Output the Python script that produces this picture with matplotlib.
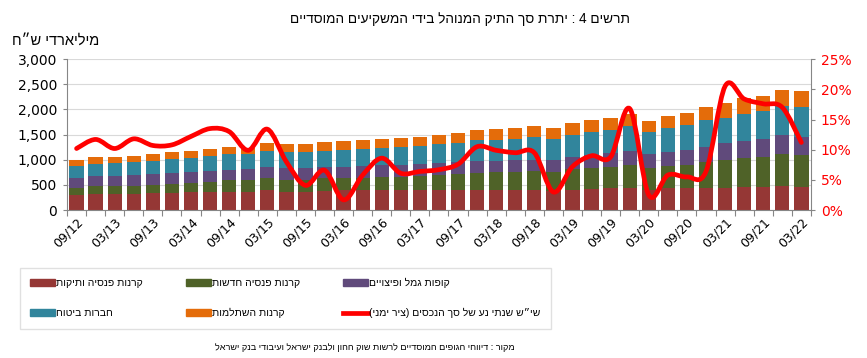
import matplotlib
matplotlib.use("Agg")
import matplotlib.pyplot as plt
import numpy as np
from matplotlib.path import Path
from matplotlib.patches import PathPatch, Patch
from matplotlib.lines import Line2D
from matplotlib.ticker import FuncFormatter


def heb(s):
    # matplotlib has no bidi support: reverse for display, mirror brackets
    return s[::-1].translate(str.maketrans('()', ')('))


quarters = ['09/12', '12/12', '03/13', '06/13', '09/13', '12/13', '03/14', '06/14',
            '09/14', '12/14', '03/15', '06/15', '09/15', '12/15', '03/16', '06/16',
            '09/16', '12/16', '03/17', '06/17', '09/17', '12/17', '03/18', '06/18',
            '09/18', '12/18', '03/19', '06/19', '09/19', '12/19', '03/20', '06/20',
            '09/20', '12/20', '03/21', '06/21', '09/21', '12/21', '03/22']

# billions NIS
old_pension = [300, 318, 318, 318, 331, 344, 357, 364, 364, 364, 404, 364, 364, 384,
               397, 397, 397, 397, 397, 397, 397, 397, 397, 397, 397, 384, 397, 410,
               430, 430, 397, 430, 430, 430, 430, 450, 450, 477, 450]
new_pension = [145, 160, 160, 160, 166, 172, 173, 192, 225, 232, 225, 238, 232, 245,
               232, 245, 265, 265, 278, 298, 318, 344, 351, 364, 378, 377, 417, 418,
               417, 464, 444, 444, 464, 530, 563, 589, 609, 635, 642]
provident = [200, 205, 205, 218, 211, 225, 231, 219, 205, 212, 218, 226, 232, 225,
             225, 232, 232, 232, 232, 232, 245, 232, 225, 225, 218, 232, 245, 264,
             278, 278, 265, 285, 298, 298, 331, 331, 351, 378, 364]
insurance = [230, 232, 245, 252, 265, 272, 278, 297, 312, 298, 325, 331, 324, 318,
             338, 344, 337, 364, 371, 377, 377, 411, 417, 424, 463, 417, 431, 450,
             464, 503, 436, 476, 496, 529, 510, 537, 556, 575, 590]
study_funds = [120, 132, 132, 125, 133, 132, 139, 146, 145, 132, 159, 152, 159, 178,
               178, 179, 179, 165, 178, 186, 192, 205, 219, 225, 219, 225, 231, 239,
               245, 238, 226, 232, 245, 265, 298, 324, 305, 325, 324]
# annual change of total assets, % (right axis)
yoy_change = [10.2, 11.7, 10.2, 11.8, 10.7, 10.8, 12.2, 13.5, 13.0, 9.9, 13.4, 8.0,
              4.1, 6.6, 1.7, 5.8, 8.6, 6.1, 6.4, 6.7, 7.6, 10.5, 9.9, 9.5, 9.5, 3.0,
              7.2, 9.0, 8.8, 16.8, 2.5, 5.8, 5.5, 6.4, 20.5, 18.4, 17.6, 17.0, 11.2]

names = ['קרנות פנסיה ותיקות', 'קרנות פנסיה חדשות', 'קופות גמל ופיצויים',
         'חברות ביטוח', 'קרנות השתלמות']
line_name = 'שי״ש שנתי נע של סך הנכסים (ציר ימני)'
colors = ['#953735', '#4f6228', '#604a7b', '#31859c', '#e46c0a']

title = 'תרשים 4 : יתרת סך התיק המנוהל בידי המשקיעים המוסדיים'
unit = 'מיליארדי ש״ח'
source = 'מקור : דיווחי הגופים המוסדיים לרשות שוק ההון ולבנק ישראל ועיבודי בנק ישראל'

hfont = ['Liberation Sans', 'DejaVu Sans']

fig = plt.figure(figsize=(8.67, 3.58), dpi=100)
ax = fig.add_axes([0.0773, 0.413, 0.858, 0.422])
x = np.arange(len(quarters))

bottom = np.zeros(len(quarters))
series = [old_pension, new_pension, provident, insurance, study_funds]
for vals, c in zip(series, colors):
    ax.bar(x, vals, 0.75, bottom=bottom, color=c, zorder=2)
    bottom += np.array(vals)

ax.set_xlim(-0.5, len(quarters) - 0.5)
ax.set_ylim(0, 3000)
ax.set_yticks(range(0, 3001, 500))
ax.yaxis.set_major_formatter(FuncFormatter(lambda v, p: f'{int(v):,}'))
ax.grid(axis='y', color='#d9d9d9', lw=0.8, zorder=0)
ax.tick_params(axis='y', labelsize=10, length=3, color='#868686', pad=4)

# category boundary ticks, labels every second quarter
ax.set_xticks(np.arange(-0.5, len(quarters), 1))
ax.set_xticklabels([])
ax.tick_params(axis='x', which='major', length=4, color='#868686')
ax.set_xticks(x[::2], minor=True)
ax.set_xticklabels(quarters[::2], minor=True, rotation=45, ha='right',
                   rotation_mode='anchor', fontsize=9)
ax.tick_params(axis='x', which='minor', length=0, pad=4)

for s in ['top', 'right']:
    ax.spines[s].set_visible(False)
for s in ['left', 'bottom']:
    ax.spines[s].set_color('#868686')

ax2 = ax.twinx()
ax2.set_ylim(0, 25)
ax2.set_yticks(range(0, 26, 5))
ax2.yaxis.set_major_formatter(FuncFormatter(lambda v, p: f'{int(v)}%'))
ax2.tick_params(axis='y', labelsize=10, labelcolor='#ff0000', length=3,
                color='#868686', pad=4)
for s in ['top', 'left', 'bottom']:
    ax2.spines[s].set_visible(False)
ax2.spines['right'].set_color('#868686')

# smoothed line (Catmull-Rom through the data points)
px = x.astype(float)
py = np.array(yoy_change)
verts = [(px[0], py[0])]
codes = [Path.MOVETO]
n = len(px)
for i in range(n - 1):
    i0, i2, i3 = max(i - 1, 0), i + 1, min(i + 2, n - 1)
    c1 = (px[i] + (px[i2] - px[i0]) / 6, py[i] + (py[i2] - py[i0]) / 6)
    c2 = (px[i2] - (px[i3] - px[i]) / 6, py[i2] - (py[i3] - py[i]) / 6)
    verts += [c1, c2, (px[i2], py[i2])]
    codes += [Path.CURVE4] * 3
ax2.add_patch(PathPatch(Path(verts, codes), fill=False, edgecolor='#ff0000',
                        lw=3.4, capstyle='round', joinstyle='round', zorder=3))

fig.text(0.530, 0.948, heb(title), ha='center', va='center', fontsize=9.8,
         family=hfont)
fig.text(0.014, 0.885, heb(unit), ha='left', va='center', fontsize=10.5,
         family=hfont)

handles = [Patch(color=colors[0]), Patch(color=colors[3]),
           Patch(color=colors[1]), Patch(color=colors[4]),
           Patch(color=colors[2]),
           Line2D([0], [0], color='#ff0000', lw=3.4)]
labels = [heb(names[0]), heb(names[3]), heb(names[1]), heb(names[4]),
          heb(names[2]), heb(line_name)]
leg = fig.legend(handles, labels, ncol=3, loc='upper left',
                 bbox_to_anchor=(0.017, 0.267), bbox_transform=fig.transFigure,
                 prop={'family': hfont, 'size': 7.5}, frameon=True,
                 fancybox=False, handlelength=2.4, handleheight=0.6,
                 handletextpad=0.1, columnspacing=4.1, labelspacing=1.9,
                 borderpad=1.0)
leg.get_frame().set_edgecolor('#d9d9d9')
leg.get_frame().set_linewidth(1.0)

fig.text(0.594, 0.03, heb(source), ha='right', va='center', fontsize=6.6,
         family=hfont)

fig.savefig('out.png', dpi=100)
